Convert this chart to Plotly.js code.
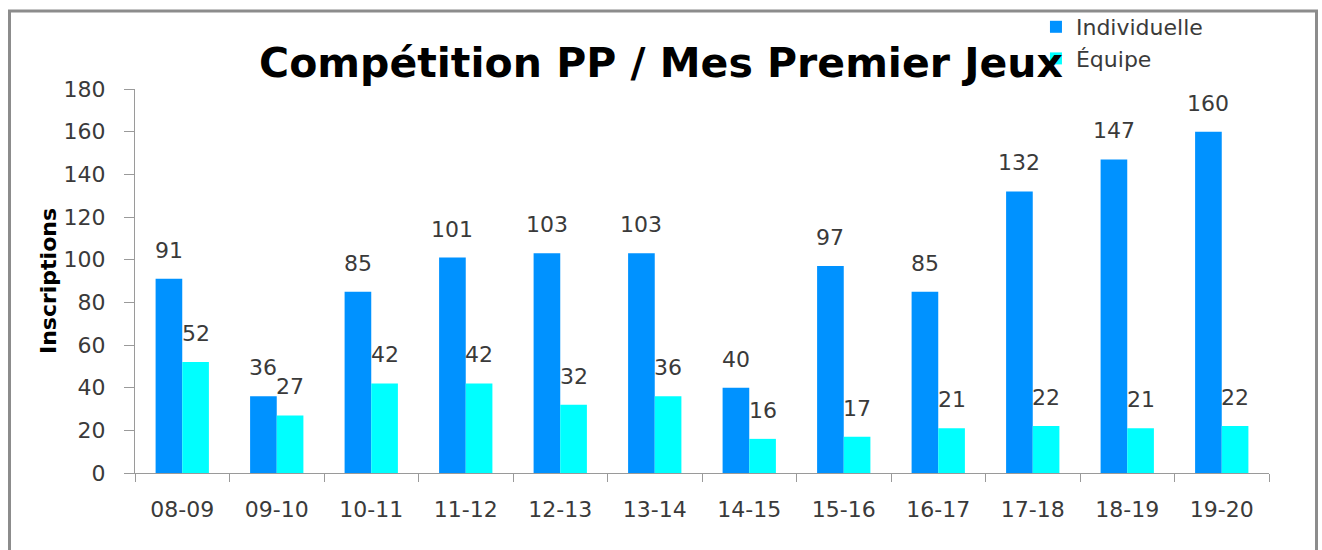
<!DOCTYPE html>
<html>
<head>
<meta charset="utf-8">
<script src="https://cdn.plot.ly/plotly-3.0.1.min.js"></script>
<style>
  html, body { margin: 0; padding: 0; background: #ffffff; }
  #chart { width: 1322px; height: 550px; }
</style>
</head>
<body>
<div id="chart"></div>
<script>
// ---- Data ----
const seasons = ["08-09", "09-10", "10-11", "11-12", "12-13", "13-14", "14-15", "15-16", "16-17", "17-18", "18-19", "19-20"];
const individuelle = [91, 36, 85, 101, 103, 103, 40, 97, 85, 132, 147, 160];
const equipe = [52, 27, 42, 42, 32, 36, 16, 17, 21, 22, 21, 22];
const seriesNames = ["Individuelle", "Équipe"];
const yTicks = [0, 20, 40, 60, 80, 100, 120, 140, 160, 180];

// ---- Styling ----
const FONT = "DejaVu Sans";
const TXT = "#3a3a3a";
const AXIS = "#9a9a9a";
const BLUE = "rgb(0,146,255)";
const CYAN = "#00FFFF";
const BARGAP = 0.436;
const half = (1 - BARGAP) / 4; // center offset of each bar in a 2-bar group

const traces = [
  { type: "bar", name: seriesNames[0], x: seasons, y: individuelle,
    marker: { color: BLUE }, hoverinfo: "x+y" },
  { type: "bar", name: seriesNames[1], x: seasons, y: equipe,
    marker: { color: CYAN }, hoverinfo: "x+y" }
];

// value labels above the bars
const annotations = [];
seasons.forEach((s, i) => {
  annotations.push({ x: i - half, y: individuelle[i], xref: "x", yref: "y",
    text: String(individuelle[i]), showarrow: false, yanchor: "bottom", yshift: 14,
    font: { family: FONT, size: 22, color: TXT } });
  annotations.push({ x: i + half, y: equipe[i], xref: "x", yref: "y",
    text: String(equipe[i]), showarrow: false, yanchor: "bottom", yshift: 14,
    font: { family: FONT, size: 22, color: TXT } });
});

const layout = {
  width: 1322, height: 550,
  margin: { l: 135, r: 53, t: 89, b: 77 },
  paper_bgcolor: "#ffffff", plot_bgcolor: "#ffffff",
  font: { family: FONT, size: 22, color: TXT },
  barmode: "group", bargap: BARGAP, bargroupgap: 0,
  title: { text: "Compétition PP / Mes Premier Jeux",
    font: { family: FONT, size: 41, color: "#000000", weight: "bold" },
    x: 0.5, xref: "container", xanchor: "center",
    y: 0.887, yref: "container", yanchor: "middle" },
  xaxis: { type: "category", tickson: "boundaries", ticks: "outside", ticklen: 8,
    tickcolor: AXIS, showline: true, linecolor: AXIS, linewidth: 1,
    showgrid: false, zeroline: false, ticklabelstandoff: 17,
    tickfont: { family: FONT, size: 22, color: TXT } },
  yaxis: { range: [0, 180], tickvals: yTicks, ticks: "outside", ticklen: 10,
    tickcolor: AXIS, showline: true, linecolor: AXIS, linewidth: 1,
    showgrid: false, zeroline: false, ticklabelstandoff: 14,
    tickfont: { family: FONT, size: 22, color: TXT },
    title: { text: "Inscriptions", standoff: 0,
      font: { family: FONT, size: 22, color: "#000000", weight: "bold" } } },
  legend: { xref: "paper", yref: "container",
    x: 0.7945, xanchor: "left", y: 0.9891, yanchor: "top",
    bgcolor: "rgba(0,0,0,0)", font: { family: FONT, size: 22, color: TXT },
    tracegroupgap: 0 },
  showlegend: true,
  annotations: annotations,
  shapes: [
    { type: "rect", xref: "paper", yref: "paper",
      x0: (9.5 - 135) / 1134, x1: (1316.5 - 135) / 1134,
      y0: -0.3, y1: (473 - 11) / 384,
      line: { color: "#8c8c8c", width: 3 }, fillcolor: "rgba(0,0,0,0)", layer: "below" }
  ]
};

Plotly.newPlot("chart", traces, layout, { displayModeBar: false, staticPlot: true });
</script>
</body>
</html>
